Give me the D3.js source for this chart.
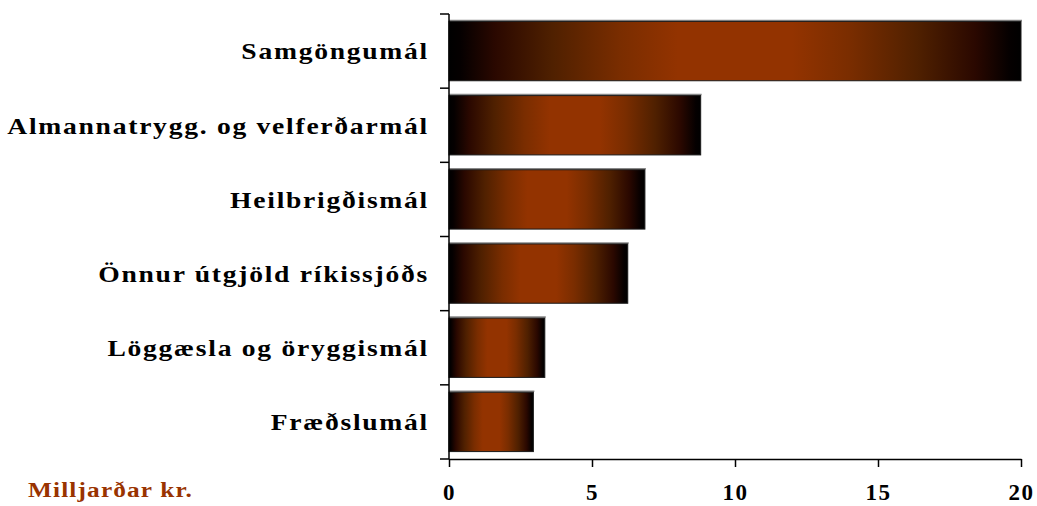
<!DOCTYPE html>
<html>
<head>
<meta charset="utf-8">
<script src="https://cdn.jsdelivr.net/npm/d3@7"></script>
<style>
body{margin:0;background:#fff;}
svg text{font-family:"Liberation Serif","Times New Roman",serif;font-weight:bold;}
</style>
</head>
<body>
<svg id="chart" width="1037" height="506"></svg>
<script>
// data
var categories = ["Samgöngumál","Almannatrygg. og velferðarmál","Heilbrigðismál","Önnur útgjöld ríkissjóðs","Löggæsla og öryggismál","Fræðslumál"];
var values = [20, 8.8, 6.85, 6.25, 3.35, 2.95];
var xTicks = [0, 5, 10, 15, 20];
var unitLabel = "Milljarðar kr.";

var svg = d3.select("#chart");
var plotLeft = 449, plotRight = 1021, plotTop = 14, plotBottom = 459;

var x = d3.scaleLinear().domain([0,20]).range([plotLeft,plotRight]);
var y = d3.scaleBand().domain(categories).range([plotTop,plotBottom]).paddingInner(0.2).paddingOuter(0.1);

var defs = svg.append("defs");
var grad = defs.append("linearGradient").attr("id","barGrad")
	.attr("x1","0%").attr("x2","100%").attr("y1","0%").attr("y2","0%");
[[0,"#000000"],[0.02,"#050000"],[0.08,"#2a0800"],[0.18,"#4f2000"],[0.3,"#7a2d00"],[0.4,"#933300"],[0.6,"#933300"],[0.7,"#7a2d00"],[0.82,"#4f2000"],[0.92,"#2a0800"],[0.98,"#050000"],[1,"#000000"]]
.forEach(function(s){
	grad.append("stop").attr("offset",s[0]).attr("stop-color",s[1]);
});

var rows = categories.map(function(c,i){return {name:c,value:values[i]};});

// shadow line on top of each bar
svg.append("g").selectAll("line")
	.data(rows).enter().append("line")
	.attr("x1",x(0)).attr("x2",function(d){return x(d.value)+1;})
	.attr("y1",function(d){return y(d.name)-1;})
	.attr("y2",function(d){return y(d.name)-1;})
	.attr("stroke","#888").attr("stroke-width",1.5);

svg.append("g").selectAll("rect")
	.data(rows).enter().append("rect")
	.attr("x",x(0))
	.attr("y",function(d){return y(d.name);})
	.attr("width",function(d){return x(d.value)-x(0);})
	.attr("height",y.bandwidth())
	.attr("fill","url(#barGrad)")
	.attr("stroke","#1a1a1a").attr("stroke-width",1);

// y axis with ticks at band boundaries
var bounds = d3.range(categories.length+1).map(function(i){return plotTop + i*(plotBottom-plotTop)/categories.length;});
var yAxisG = svg.append("g");
yAxisG.append("line").attr("x1",plotLeft).attr("x2",plotLeft).attr("y1",plotTop).attr("y2",plotBottom)
	.attr("stroke","#000").attr("stroke-width",1.5);
yAxisG.selectAll("line.tk").data(bounds).enter().append("line").attr("class","tk")
	.attr("x1",plotLeft-9).attr("x2",plotLeft).attr("y1",function(d){return d;}).attr("y2",function(d){return d;})
	.attr("stroke","#000").attr("stroke-width",1.5);

// category labels, stretched a bit to get the wide bitmap-ish look
svg.append("g").attr("transform","translate(429,0) scale(1.15,1)")
	.selectAll("text")
	.data(rows).enter().append("text")
	.attr("x",0)
	.attr("y",function(d){return y(d.name)+y.bandwidth()/2;})
	.attr("dy","0.35em")
	.attr("text-anchor","end")
	.style("font-size","24px")
	.style("letter-spacing","1.5px")
	.text(function(d){return d.name;});

// x axis
var xAxis = d3.axisBottom(x).tickValues(xTicks).tickSize(8).tickSizeOuter(0);
var xg = svg.append("g").attr("transform","translate(0,"+plotBottom+")").call(xAxis);
xg.select(".domain").attr("stroke-width",1.5);
xg.selectAll(".tick line").attr("stroke-width",1.5);
xg.selectAll("text").attr("y",41).attr("dy",null)
	.style("font-size","23px").style("letter-spacing","1.5px").attr("fill","#000");

svg.append("text")
	.attr("transform","translate(28,497) scale(1.15,1)")
	.attr("fill","#993300")
	.style("font-size","22px")
	.style("letter-spacing","1px")
	.text(unitLabel);
</script>
</body>
</html>
